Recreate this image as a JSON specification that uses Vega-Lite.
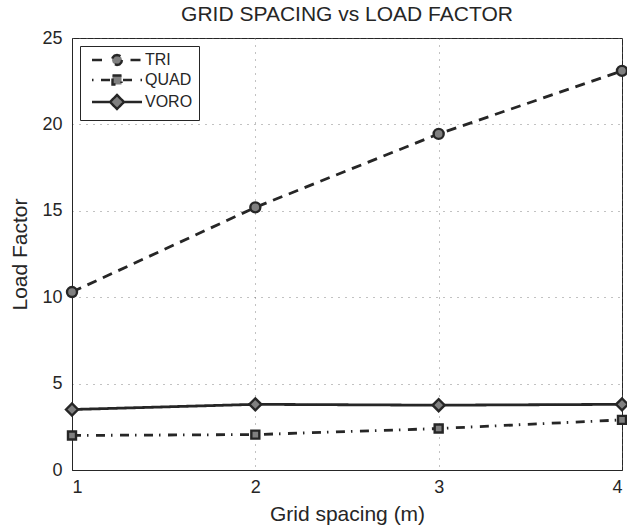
{
  "$schema": "https://vega.github.io/schema/vega-lite/v6.json",
  "autosize": "none",
  "padding": {"left": 72, "top": 38, "right": 5, "bottom": 60},
  "width": 550,
  "height": 432,
  "background": "white",
  "title": {"text": "GRID SPACING vs LOAD FACTOR", "font": "Liberation Sans", "fontSize": 21, "fontWeight": "normal", "color": "#262626", "offset": 4},
  "config": {
    "view": {"stroke": "#262626", "strokeWidth": 1},
    "axis": {
      "labelFont": "Liberation Sans", "labelFontSize": 18, "labelColor": "#262626",
      "titleFont": "Liberation Sans", "titleFontSize": 21, "titleFontWeight": "normal", "titleColor": "#262626",
      "domainColor": "#262626", "tickColor": "#262626",
      "gridColor": "#666666", "gridDash": [1, 6], "gridOpacity": 0.8
    }
  },
  "data": {"values": [
    {"x": 1, "lf": 10.3, "series": "TRI"},
    {"x": 2, "lf": 15.2, "series": "TRI"},
    {"x": 3, "lf": 19.45, "series": "TRI"},
    {"x": 4, "lf": 23.1, "series": "TRI"},
    {"x": 1, "lf": 2.0, "series": "QUAD"},
    {"x": 2, "lf": 2.05, "series": "QUAD"},
    {"x": 3, "lf": 2.4, "series": "QUAD"},
    {"x": 4, "lf": 2.9, "series": "QUAD"},
    {"x": 1, "lf": 3.5, "series": "VORO"},
    {"x": 2, "lf": 3.8, "series": "VORO"},
    {"x": 3, "lf": 3.75, "series": "VORO"},
    {"x": 4, "lf": 3.8, "series": "VORO"}
  ]},
  "encoding": {
    "x": {"field": "x", "type": "quantitative", "scale": {"domain": [1, 4], "nice": false, "zero": false},
      "axis": {"title": "Grid spacing (m)", "values": [1, 2, 3, 4], "format": "d", "tickSize": 0, "labelPadding": 8, "titlePadding": 7, "grid": true}},
    "y": {"field": "lf", "type": "quantitative", "scale": {"domain": [0, 25], "nice": false},
      "axis": {"title": "Load Factor", "values": [0, 5, 10, 15, 20, 25], "tickSize": 0, "labelPadding": 10, "titlePadding": 11, "grid": true}}
  },
  "layer": [
    {
      "transform": [{"filter": "datum.x > 100"}],
      "mark": {"type": "point", "filled": true, "fill": "#808080", "stroke": "#262626", "strokeWidth": 2.2, "opacity": 1, "size": 100},
      "encoding": {
        "shape": {"field": "series", "type": "nominal",
          "scale": {"domain": ["TRI", "QUAD", "VORO"], "range": [
            "M-5,0H-2.7M2.7,0H5M1,0L0.87,0.5L0.5,0.87L0,1L-0.5,0.87L-0.87,0.5L-1,0L-0.87,-0.5L-0.5,-0.87L0,-1L0.5,-0.87L0.87,-0.5Z",
            "M-5,0H-4.7M-3.2,0H-1.2M1.2,0H3.2M4.7,0H5M-0.9,-0.9H0.9V0.9H-0.9Z",
            "M-5,0H-1.4M1.4,0H5M0,-1.4L1.4,0L0,1.4L-1.4,0Z"
          ]},
          "legend": {
            "title": null, "orient": "top-left", "offset": 8,
            "strokeColor": "#262626", "fillColor": "white", "padding": 6,
            "symbolOpacity": 1, "symbolFillColor": "#808080", "symbolStrokeColor": "#262626", "symbolStrokeWidth": 2.4,
            "symbolOffset": 23, "labelOffset": 20, "rowPadding": 0,
            "labelFont": "Liberation Sans", "labelFontSize": 16, "labelColor": "#262626",
            "encoding": {"symbols": {
              "fill": {"value": "#808080"}, "stroke": {"value": "#262626"}, "strokeWidth": {"value": 2.4}, "opacity": {"value": 1}
            }}
          }
        }
      }
    },
    {
      "mark": {"type": "line", "color": "#262626", "strokeWidth": 2.8},
      "encoding": {
        "detail": {"field": "series"},
        "strokeDash": {"field": "series", "type": "nominal",
          "scale": {"domain": ["TRI", "QUAD", "VORO"], "range": [[10, 7], [9, 6, 1.5, 7.5], [1, 0]]}, "legend": null}
      }
    },
    {
      "transform": [{"filter": "datum.series == 'TRI'"}],
      "mark": {"type": "point", "shape": "circle", "size": 100, "filled": true, "fill": "#808080", "stroke": "#262626", "strokeWidth": 2.4, "opacity": 1}
    },
    {
      "transform": [{"filter": "datum.series == 'QUAD'"}],
      "mark": {"type": "point", "shape": "square", "size": 64, "filled": true, "fill": "#808080", "stroke": "#262626", "strokeWidth": 2.4, "opacity": 1}
    },
    {
      "transform": [{"filter": "datum.series == 'VORO'"}],
      "mark": {"type": "point", "shape": "diamond", "size": 144, "filled": true, "fill": "#808080", "stroke": "#262626", "strokeWidth": 2.4, "opacity": 1}
    }
  ]
}
